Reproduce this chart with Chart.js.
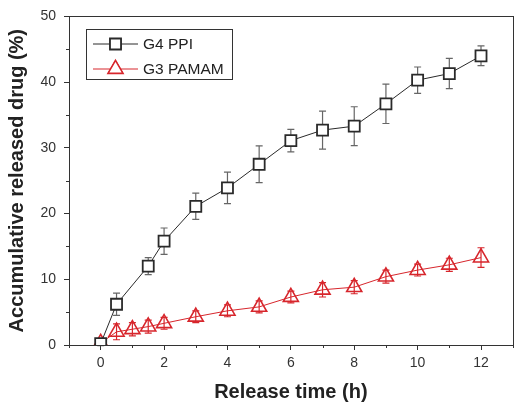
<!DOCTYPE html>
<html><head><meta charset="utf-8">
<script src="https://cdn.jsdelivr.net/npm/chart.js@4"></script>
<style>html,body{margin:0;padding:0;background:#fff}#wrap{width:523px;height:410px}</style>
</head><body><div id="wrap"><canvas id="c" width="523" height="410"></canvas></div>
<script>
const seriesNames = ['G4 PPI', 'G3 PAMAM'];
const ppiTimes = [0, 0.5, 1.5, 2, 3, 4, 5, 6, 7, 8, 9, 10, 11, 12];
const ppiValues = [0.2, 6.2, 12.0, 15.8, 21.1, 23.9, 27.5, 31.1, 32.7, 33.3, 36.7, 40.3, 41.3, 44.0];
const ppiErrors = [0.3, 1.7, 1.3, 2.0, 2.0, 2.4, 2.8, 1.7, 2.9, 2.95, 3.0, 2.0, 2.3, 1.5];
const pamamTimes = [0, 0.5, 1, 1.5, 2, 3, 4, 5, 6, 7, 8, 9, 10, 11, 12];
const pamamValues = [0.3, 2.0, 2.4, 2.8, 3.3, 4.3, 5.2, 5.8, 7.3, 8.4, 8.8, 10.4, 11.4, 12.2, 13.3];
const pamamErrors = [0.2, 1.2, 1.0, 1.0, 0.9, 0.9, 0.9, 0.9, 0.9, 1.1, 1.0, 1.0, 0.9, 1.0, 1.5];
const xTickLabels = [0, 2, 4, 6, 8, 10, 12];
const yTickLabels = [0, 10, 20, 30, 40, 50];
const xTitle = 'Release time (h)';
const yTitle = 'Accumulative released drug (%)';

const BLACK = '#2a2a2a', RED = '#d7262c';
const toPts = (xs, ys) => xs.map((x, i) => ({x, y: ys[i]}));

const errorBars = {
  id: 'errorBars',
  beforeDatasetsDraw(chart) {
    const ctx = chart.ctx, xs = chart.scales.x, ys = chart.scales.y;
    const sets = [[ppiTimes, ppiValues, ppiErrors, '#666'], [pamamTimes, pamamValues, pamamErrors, RED]];
    ctx.save();
    ctx.lineWidth = 1.2;
    sets.forEach(([t, v, e, col]) => {
      ctx.strokeStyle = col;
      t.forEach((tt, i) => {
        const px = xs.getPixelForValue(tt);
        const top = ys.getPixelForValue(v[i] + e[i]);
        const bot = ys.getPixelForValue(v[i] - e[i]);
        ctx.beginPath();
        ctx.moveTo(px, top); ctx.lineTo(px, bot);
        ctx.moveTo(px - 3.5, top); ctx.lineTo(px + 3.5, top);
        ctx.moveTo(px - 3.5, bot); ctx.lineTo(px + 3.5, bot);
        ctx.stroke();
      });
    });
    ctx.restore();
  }
};

const frame = {
  id: 'frame',
  afterDraw(chart) {
    const ctx = chart.ctx, a = chart.chartArea, xs = chart.scales.x, ys = chart.scales.y;
    ctx.save();
    ctx.strokeStyle = '#333'; ctx.lineWidth = 1;
    ctx.strokeRect(Math.round(a.left) + 0.5, Math.round(a.top) + 0.5, Math.round(a.right - a.left), Math.round(a.bottom - a.top));
    ctx.beginPath();
    for (let v = -1; v <= 13; v++) {
      if (xTickLabels.includes(v)) continue;
      const px = Math.round(xs.getPixelForValue(v)) + 0.5;
      ctx.moveTo(px, a.bottom); ctx.lineTo(px, a.bottom + 3);
    }
    for (let v = 5; v <= 45; v += 10) {
      const py = Math.round(ys.getPixelForValue(v)) + 0.5;
      ctx.moveTo(a.left, py); ctx.lineTo(a.left - 3, py);
    }
    ctx.stroke();
    // legend
    const lx = 86, ly = 29, lw = 146, lh = 50;
    ctx.strokeStyle = '#333';
    ctx.strokeRect(lx + 0.5, ly + 0.5, lw, lh);
    chart.data.datasets.forEach((ds, i) => {
      const y = ly + 15 + i * 25;
      ctx.strokeStyle = ds.borderColor; ctx.lineWidth = 1;
      ctx.beginPath(); ctx.moveTo(lx + 7, y); ctx.lineTo(lx + 52, y); ctx.stroke();
      Chart.helpers.drawPoint(ctx, {pointStyle: ds.pointStyle, radius: ds.pointRadius, borderWidth: ds.pointBorderWidth}, lx + 29.5, y);
      ctx.fillStyle = '#fff'; ctx.strokeStyle = ds.pointBorderColor; ctx.lineWidth = ds.pointBorderWidth;
      ctx.fill(); ctx.stroke();
      ctx.fillStyle = '#222'; ctx.font = '15.5px Arial, "Liberation Sans"';
      ctx.textAlign = 'left'; ctx.textBaseline = 'middle';
      ctx.fillText(seriesNames[i], lx + 57, y + 1);
    });
    ctx.restore();
  }
};

new Chart(document.getElementById('c'), {
  type: 'scatter',
  data: {
    datasets: [
      {label: seriesNames[0], data: toPts(ppiTimes, ppiValues), showLine: true, borderColor: BLACK, borderWidth: 1,
       pointStyle: 'rect', pointRadius: 7.8, pointBorderColor: BLACK, pointBackgroundColor: '#fff', pointBorderWidth: 1.8},
      {label: seriesNames[1], data: toPts(pamamTimes, pamamValues), showLine: true, borderColor: RED, borderWidth: 1,
       pointStyle: 'triangle', pointRadius: 8.7, pointBorderColor: RED, pointBackgroundColor: 'rgba(255,255,255,0)', pointBorderWidth: 1.6}
    ]
  },
  options: {
    responsive: false, animation: false,
    layout: {padding: {left: 0, right: 7, top: 12, bottom: 0}},
    plugins: {legend: {display: false}, tooltip: {enabled: false}},
    scales: {
      x: {
        type: 'linear', min: -1, max: 13,
        afterFit: s => { s.height = 65; },
        ticks: {stepSize: 1, autoSkip: false, maxRotation: 0, padding: 5, color: '#333',
          font: {family: 'Arial, "Liberation Sans"', size: 14},
          callback: v => xTickLabels.includes(v) ? String(v) : ''},
        grid: {drawOnChartArea: false, tickLength: 5, tickColor: c => xTickLabels.includes(c.tick.value) ? '#333' : 'rgba(0,0,0,0)'},
        border: {display: true, color: '#333', width: 1},
        title: {display: true, text: xTitle, color: '#222', padding: {top: 0, bottom: 6},
          font: {family: 'Arial, "Liberation Sans"', size: 20, weight: 'bold'}}
      },
      y: {
        min: 0, max: 50,
        afterFit: s => { s.width = 69; },
        ticks: {stepSize: 10, padding: 8, color: '#333',
          font: {family: 'Arial, "Liberation Sans"', size: 14},
          callback: v => yTickLabels.includes(v) ? String(v) : ''},
        grid: {drawOnChartArea: false, tickLength: 5, tickColor: '#333'},
        border: {display: true, color: '#333', width: 1},
        title: {display: true, text: yTitle, color: '#222', padding: {top: 5, bottom: 0},
          font: {family: 'Arial, "Liberation Sans"', size: 20, weight: 'bold'}}
      }
    }
  },
  plugins: [errorBars, frame]
});
</script></body></html>
